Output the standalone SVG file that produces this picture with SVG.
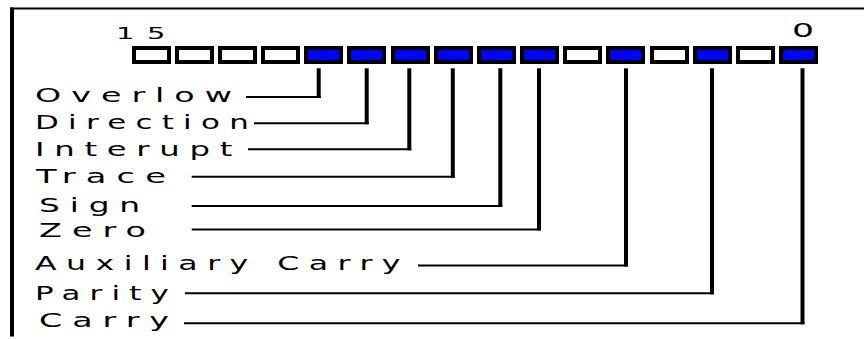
<svg xmlns="http://www.w3.org/2000/svg" width="864" height="339" viewBox="0 0 864 339">
<style>
.box{stroke:#000;stroke-width:4}
.off{fill:#fff}
.on{fill:#0000ff}
.lbl{font-family:"DejaVu Sans",Verdana,sans-serif;font-size:20px;letter-spacing:6px;fill:#000}
.num{font-family:"DejaVu Sans",Verdana,sans-serif;font-size:16px;letter-spacing:7px;fill:#000}
.zero{font-family:"DejaVu Sans",Verdana,sans-serif;font-size:19px;fill:#000}
.v{stroke:#000;stroke-width:4;fill:none}
.h{stroke:#000;stroke-width:2;fill:none}
</style>
<rect width="864" height="339" fill="#fff"/>
<g id="frame">
<line x1="10" y1="8.5" x2="864" y2="8.5" stroke="#000" stroke-width="2"/>
<line x1="12" y1="7.5" x2="12" y2="336.5" stroke="#000" stroke-width="4"/>
</g>
<g id="bit-numbers">
<text class="num" x="116" y="38.5" textLength="62" lengthAdjust="spacingAndGlyphs">15</text>
<text class="zero" x="792" y="36.7" textLength="22" lengthAdjust="spacingAndGlyphs">0</text>
</g>
<g id="register">
<g id="bit-15"><rect class="box off" x="134" y="48" width="35" height="14"/></g>
<g id="bit-14"><rect class="box off" x="177" y="48" width="35" height="14"/></g>
<g id="bit-13"><rect class="box off" x="220" y="48" width="35" height="14"/></g>
<g id="bit-12"><rect class="box off" x="263" y="48" width="35" height="14"/></g>
<g id="bit-11"><rect class="box on" x="306" y="48" width="35" height="14"/></g>
<g id="bit-10"><rect class="box on" x="349" y="48" width="35" height="14"/></g>
<g id="bit-9"><rect class="box on" x="393" y="48" width="35" height="14"/></g>
<g id="bit-8"><rect class="box on" x="436" y="48" width="35" height="14"/></g>
<g id="bit-7"><rect class="box on" x="479" y="48" width="35" height="14"/></g>
<g id="bit-6"><rect class="box on" x="522" y="48" width="35" height="14"/></g>
<g id="bit-5"><rect class="box off" x="565" y="48" width="35" height="14"/></g>
<g id="bit-4"><rect class="box on" x="608" y="48" width="35" height="14"/></g>
<g id="bit-3"><rect class="box off" x="652" y="48" width="35" height="14"/></g>
<g id="bit-2"><rect class="box on" x="695" y="48" width="35" height="14"/></g>
<g id="bit-1"><rect class="box off" x="738" y="48" width="35" height="14"/></g>
<g id="bit-0"><rect class="box on" x="781" y="48" width="35" height="14"/></g>
</g>
<g id="labels">
<g id="label-overflow"><text class="lbl" x="35" y="102" textLength="207" lengthAdjust="spacingAndGlyphs">Overlow</text></g>
<g id="label-direction"><text class="lbl" x="35" y="129" textLength="223" lengthAdjust="spacingAndGlyphs">Direction</text></g>
<g id="label-interrupt"><text class="lbl" x="35" y="155.7" textLength="207" lengthAdjust="spacingAndGlyphs">Interupt</text></g>
<g id="label-trace"><text class="lbl" x="36" y="183.3" textLength="140" lengthAdjust="spacingAndGlyphs">Trace</text></g>
<g id="label-sign"><text class="lbl" x="39" y="211.5" textLength="111" lengthAdjust="spacingAndGlyphs">Sign</text></g>
<g id="label-zero"><text class="lbl" x="39" y="236.7" textLength="117" lengthAdjust="spacingAndGlyphs">Zero</text></g>
<g id="label-aux"><text class="lbl" x="35" y="270" textLength="375" lengthAdjust="spacingAndGlyphs">Auxiliary Carry</text></g>
<g id="label-parity"><text class="lbl" x="35" y="300" textLength="143" lengthAdjust="spacingAndGlyphs">Parity</text></g>
<g id="label-carry"><text class="lbl" x="39" y="326.7" textLength="140" lengthAdjust="spacingAndGlyphs">Carry</text></g>
</g>
<g id="connectors">
<g><line class="v" x1="318.7" y1="68.3" x2="318.7" y2="98"/><line class="h" x1="246" y1="97" x2="320.7" y2="97"/></g>
<g><line class="v" x1="366.7" y1="68.3" x2="366.7" y2="124.3"/><line class="h" x1="254" y1="123.3" x2="368.7" y2="123.3"/></g>
<g><line class="v" x1="409.3" y1="68.3" x2="409.3" y2="150.3"/><line class="h" x1="248" y1="149.3" x2="411.3" y2="149.3"/></g>
<g><line class="v" x1="452.8" y1="68.3" x2="452.8" y2="177.7"/><line class="h" x1="191.7" y1="176.7" x2="454.8" y2="176.7"/></g>
<g><line class="v" x1="500.3" y1="68.3" x2="500.3" y2="207"/><line class="h" x1="191.7" y1="206" x2="502.3" y2="206"/></g>
<g><line class="v" x1="539" y1="68.3" x2="539" y2="230.5"/><line class="h" x1="191.7" y1="229.5" x2="541" y2="229.5"/></g>
<g><line class="v" x1="626" y1="68.3" x2="626" y2="266.5"/><line class="h" x1="418" y1="265.5" x2="628" y2="265.5"/></g>
<g><line class="v" x1="712" y1="68.3" x2="712" y2="294.3"/><line class="h" x1="185" y1="293.3" x2="714" y2="293.3"/></g>
<g><line class="v" x1="802.5" y1="68.3" x2="802.5" y2="324.3"/><line class="h" x1="184" y1="323.3" x2="804.5" y2="323.3"/></g>
</g>
</svg>
